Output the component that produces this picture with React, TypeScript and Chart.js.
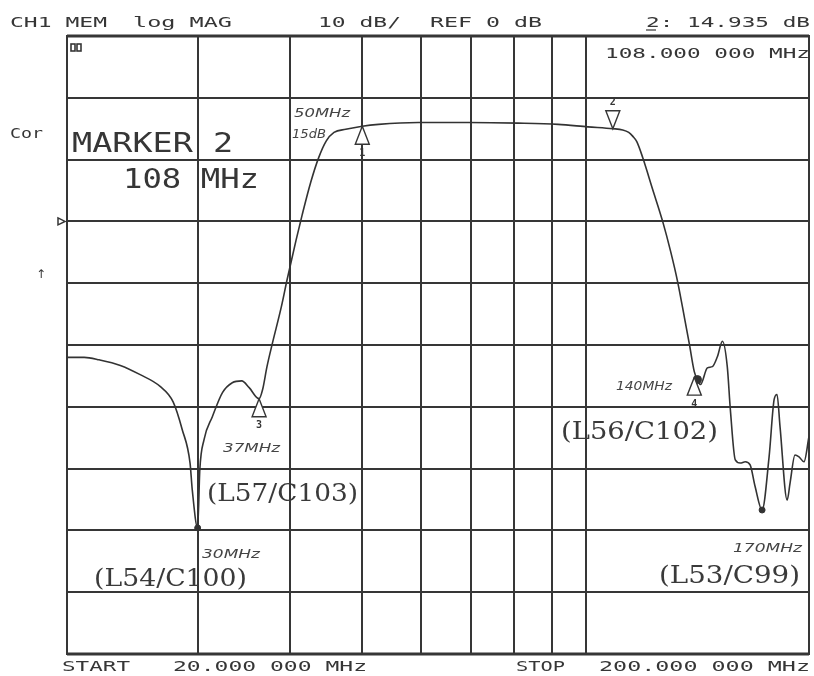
import React, { useEffect, useRef } from 'react';
import { Chart, registerables } from 'chart.js';

Chart.register(...registerables);

// ---- data (frequency in MHz, magnitude in dB) ----
const freqMHz = [
  20.0, 21.1, 22.1, 23.6, 25.1, 26.7, 27.8, 28.6, 29.3, 29.5, 30.0, 30.2, 30.6, 31.4, 32.4, 33.4,
  34.4, 35.2, 36.3, 36.7, 37.2, 37.8, 38.9, 39.6, 40.7, 41.5, 42.6, 43.7, 44.7, 45.8, 47.5, 50.0,
  52.6, 59.5, 69.5, 81.1, 91.8, 100.7, 108.8, 112.2, 114.3, 115.7, 117.2, 119.4, 123.1, 127.0,
  130.2, 133.0, 135.9, 138.0, 140.1, 141.5, 142.8, 145.9, 148.2, 150.5, 152.9, 155.2, 156.7,
  159.1, 161.6, 164.1, 166.6, 169.2, 172.9, 176.7, 179.5, 181.1, 182.8, 186.9, 188.6, 191.5,
  193.9, 196.9, 200.0,
];
const magDB = [
  -22.0, -22.0, -22.4, -23.3, -24.8, -26.7, -29.2, -33.7, -39.1, -43.4, -49.6, -40.2, -35.3, -31.6,
  -27.7, -26.1, -25.8, -26.9, -28.7, -27.2, -23.5, -19.9, -13.8, -9.4, -3.1, 1.1, 6.3, 10.4, 13.0,
  14.4, 14.9, 15.4, 15.7, 16.0, 16.0, 15.9, 15.7, 15.3, 15.0, 14.8, 14.4, 13.8, 12.9, 10.3, 5.2,
  0.0, -4.9, -9.7, -15.6, -19.9, -24.3, -25.6, -26.4, -23.7, -23.5, -21.9, -19.4, -23.5, -30.5,
  -38.6, -39.1, -38.9, -39.4, -42.9, -46.7, -38.1, -28.8, -28.0, -33.2, -45.1, -42.3, -37.8,
  -38.1, -38.9, -34.8,
];

// grid (log frequency paper) and dB divisions
const xGridMHz = [20, 30, 40, 50, 60, 70, 80, 90, 100, 200];
const yMinDB = -70;
const yMaxDB = 30;
const yStepDB = 10;
const refDB = 0;

// analyzer markers
const markerLabels = ['1', '2', '3', '4'];
const markerFreq = [50.0, 108.8, 36.3, 140.1];
const markerDB = [15.4, 15.0, -28.7, -25.2];
const markerPointsDown = [false, true, false, false];

// filled dots on the trace
const dotFreq = [30.0, 141.5, 172.9];
const dotDB = [-49.6, -25.6, -46.7];

// header / footer strings
const headerTexts = ['CH1 MEM', 'log MAG', '10 dB/', 'REF 0 dB', '2: 14.935 dB'];
const markerFreqText = '108.000 000 MHz';
const footerTexts = ['START', '20.000 000 MHz', 'STOP', '200.000 000 MHz'];

const INK = '#363636';
const MONO = '"DejaVu Sans Mono", monospace';

type TextItem = { t: string; x: number; y: number; w: number; font: string; color?: string };

const textItems: TextItem[] = [
  { t: headerTexts[0], x: 10, y: 27, w: 97, font: `14px ${MONO}` },
  { t: headerTexts[1], x: 133, y: 27, w: 99, font: `14px ${MONO}` },
  { t: headerTexts[2], x: 318, y: 27, w: 83, font: `14px ${MONO}` },
  { t: headerTexts[3], x: 430, y: 27, w: 112, font: `14px ${MONO}` },
  { t: headerTexts[4], x: 646, y: 27, w: 164, font: `14px ${MONO}` },
  { t: markerFreqText, x: 605, y: 58, w: 205, font: `14px ${MONO}` },
  { t: footerTexts[0], x: 62, y: 671, w: 68, font: `14px ${MONO}` },
  { t: footerTexts[1], x: 173, y: 671, w: 194, font: `14px ${MONO}` },
  { t: footerTexts[2], x: 516, y: 671, w: 49, font: `14px ${MONO}` },
  { t: footerTexts[3], x: 599, y: 671, w: 211, font: `14px ${MONO}` },
  { t: 'Cor', x: 10, y: 138, w: 33, font: `14px ${MONO}` },
  { t: 'MARKER 2', x: 72, y: 152, w: 161, font: `26px ${MONO}` },
  { t: '108 MHz', x: 123, y: 188, w: 136, font: `26px ${MONO}` },
  { t: '50MHz', x: 294, y: 117, w: 56, font: 'italic 12px "DejaVu Sans"', color: '#444' },
  { t: '15dB', x: 292, y: 138, w: 34, font: 'italic 12px "DejaVu Sans"', color: '#444' },
  { t: '37MHz', x: 223, y: 452, w: 57, font: 'italic 12px "DejaVu Sans"', color: '#444' },
  { t: '30MHz', x: 202, y: 558, w: 58, font: 'italic 12px "DejaVu Sans"', color: '#444' },
  { t: '140MHz', x: 616, y: 390, w: 56, font: 'italic 12px "DejaVu Sans"', color: '#444' },
  { t: '170MHz', x: 733, y: 552, w: 69, font: 'italic 12px "DejaVu Sans"', color: '#444' },
  { t: '(L57/C103)', x: 207, y: 501, w: 151, font: '24px "DejaVu Serif"', color: '#3a3a3a' },
  { t: '(L54/C100)', x: 94, y: 586, w: 153, font: '24px "DejaVu Serif"', color: '#3a3a3a' },
  { t: '(L56/C102)', x: 561, y: 439, w: 157, font: '24px "DejaVu Serif"', color: '#3a3a3a' },
  { t: '(L53/C99)', x: 659, y: 583, w: 141, font: '24px "DejaVu Serif"', color: '#3a3a3a' },
];

function drawFit(ctx: CanvasRenderingContext2D, it: TextItem) {
  ctx.save();
  ctx.font = it.font;
  ctx.fillStyle = it.color || INK;
  ctx.textBaseline = 'alphabetic';
  ctx.textAlign = 'left';
  const m = ctx.measureText(it.t).width || 1;
  ctx.translate(it.x, it.y);
  ctx.scale(it.w / m, 1);
  ctx.fillText(it.t, 0, 0);
  ctx.restore();
}

const overlay = {
  id: 'overlay',
  beforeDatasetsDraw(chart: any) {
    const { ctx, chartArea: a } = chart;
    ctx.save();
    ctx.strokeStyle = INK;
    ctx.lineWidth = 3;
    ctx.beginPath();
    ctx.moveTo(a.left, a.top);
    ctx.lineTo(a.right, a.top);
    ctx.moveTo(a.left, a.bottom);
    ctx.lineTo(a.right, a.bottom);
    ctx.stroke();
    ctx.lineWidth = 2;
    ctx.strokeRect(a.left, a.top, a.right - a.left, a.bottom - a.top);
    ctx.restore();
  },
  afterDraw(chart: any) {
    const { ctx, chartArea: a, scales } = chart;
    const xs = scales.x;
    const ys = scales.y;
    ctx.save();
    textItems.forEach((it) => drawFit(ctx, it));
    ctx.strokeStyle = INK;
    ctx.lineWidth = 1.2;
    ctx.beginPath();
    ctx.moveTo(646, 30);
    ctx.lineTo(656, 30);
    ctx.stroke();

    const yr = ys.getPixelForValue(refDB);
    ctx.lineWidth = 1.5;
    ctx.beginPath();
    ctx.moveTo(a.left - 9, yr - 3.5);
    ctx.lineTo(a.left - 2, yr);
    ctx.lineTo(a.left - 9, yr + 3.5);
    ctx.closePath();
    ctx.stroke();

    ctx.font = '12px "DejaVu Sans"';
    ctx.fillStyle = INK;
    ctx.fillText('\u2191', 36, 278);

    ctx.lineWidth = 1.6;
    ctx.strokeRect(71, 44, 4, 7);
    ctx.strokeRect(77, 44, 4, 7);

    ctx.lineWidth = 1.4;
    ctx.strokeStyle = INK;
    markerFreq.forEach((f, i) => {
      const px = xs.getPixelForValue(f);
      const py = ys.getPixelForValue(markerDB[i]);
      const h = 18;
      const hw = 7;
      ctx.fillStyle = '#ffffff';
      ctx.beginPath();
      if (markerPointsDown[i]) {
        ctx.moveTo(px, py);
        ctx.lineTo(px - hw, py - h);
        ctx.lineTo(px + hw, py - h);
      } else {
        ctx.moveTo(px, py);
        ctx.lineTo(px - hw, py + h);
        ctx.lineTo(px + hw, py + h);
      }
      ctx.closePath();
      ctx.fill();
      ctx.stroke();
      ctx.fillStyle = INK;
      ctx.font = `bold 10px ${MONO}`;
      ctx.textAlign = 'center';
      ctx.textBaseline = 'middle';
      const ly = markerPointsDown[i] ? py - h - 8 : py + h + 9;
      ctx.fillText(markerLabels[i], px, ly);
    });
    ctx.restore();
  },
};

export default function App() {
  const ref = useRef<HTMLCanvasElement | null>(null);
  useEffect(() => {
    if (!ref.current) return;
    const chart = new Chart(ref.current, {
      type: 'line',
      data: {
        datasets: [
          {
            data: freqMHz.map((f, i) => ({ x: f, y: magDB[i] })),
            borderColor: '#333333',
            borderWidth: 1.6,
            pointRadius: 0,
            fill: false,
            cubicInterpolationMode: 'monotone',
          } as any,
          {
            type: 'scatter',
            data: dotFreq.map((f, i) => ({ x: f, y: dotDB[i] })),
            pointRadius: [3, 4, 3],
            pointBackgroundColor: '#333333',
            pointBorderColor: '#333333',
            showLine: false,
          } as any,
        ],
      },
      options: {
        responsive: false,
        animation: false,
        events: [],
        layout: { padding: { left: 67, right: 2, top: 36, bottom: 22 } },
        plugins: { legend: { display: false }, tooltip: { enabled: false } },
        scales: {
          x: {
            type: 'logarithmic',
            min: 20,
            max: 200,
            afterBuildTicks: (s: any) => {
              s.ticks = xGridMHz.map((v) => ({ value: v }));
            },
            afterFit: (s: any) => {
              s.height = 0;
            },
            ticks: { display: false },
            grid: { color: INK, lineWidth: 2, drawTicks: false },
            border: { display: false },
          },
          y: {
            type: 'linear',
            min: yMinDB,
            max: yMaxDB,
            ticks: { display: false, stepSize: yStepDB },
            afterFit: (s: any) => {
              s.width = 0;
            },
            grid: { color: INK, lineWidth: 2, drawTicks: false },
            border: { display: false },
          },
        },
      } as any,
      plugins: [overlay],
    });
    return () => chart.destroy();
  }, []);
  return (
    <div style={{ position: 'absolute', left: 0, top: 0, width: 814, height: 676, background: '#fff' }}>
      <canvas ref={ref} width={814} height={676} style={{ display: 'block', width: 814, height: 676 }} />
    </div>
  );
}
